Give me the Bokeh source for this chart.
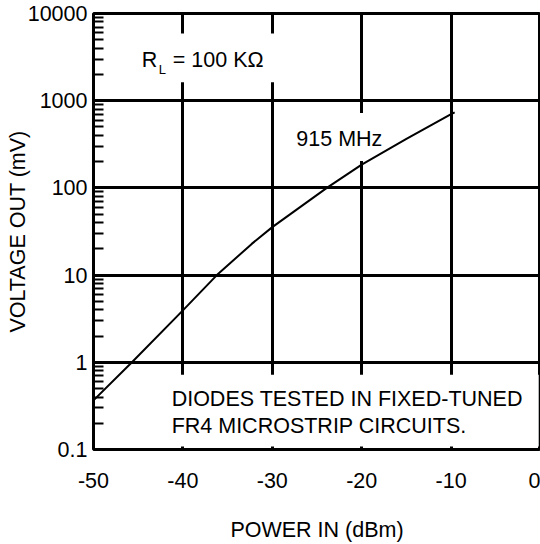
from bokeh.plotting import figure
from bokeh.models import FixedTicker
from bokeh.embed import file_html
from bokeh.resources import INLINE
from bokeh.core.properties import value

# ---- data ----
pin_dbm = [-50, -45.7, -40, -36.2, -32.3, -30, -23.9, -20, -15, -10, -9.6]
vout_mv = [0.366, 1.0, 3.94, 10, 22.8, 35.5, 100, 185, 365, 700, 735]

x_ticks = [-50, -40, -30, -20, -10, 0]
x_tick_labels = ["-50", "-40", "-30", "-20", "-10", "0"]
y_ticks = [0.1, 1, 10, 100, 1000, 10000]
y_tick_labels = ["0.1", "1", "10", "100", "1000", "10000"]

FONT = "Liberation Sans"
FS = "21.5px"

p = figure(width=540, height=544, y_axis_type="log",
           x_range=(-50, 0), y_range=(0.1, 10000),
           output_backend="svg", toolbar_location=None,
           min_border_left=93, min_border_right=0,
           min_border_top=13, min_border_bottom=93)

p.background_fill_color = "white"
p.border_fill_color = "white"
p.outline_line_color = "black"
p.outline_line_width = 3
p.outline_line_alpha = 1.0

minor = [m * 10 ** e for e in range(-1, 4) for m in range(2, 10)]
yticker = FixedTicker(ticks=y_ticks, minor_ticks=minor)
xticker = FixedTicker(ticks=x_ticks)

xax = p.xaxis[0]
xax.ticker = xticker
xax.major_label_overrides = {t: l for t, l in zip(x_ticks, x_tick_labels)}
xax.axis_line_color = None
xax.major_tick_in = 0
xax.major_tick_out = 0
xax.minor_tick_in = 0
xax.minor_tick_out = 0
xax.major_label_standoff = 23
xax.major_label_text_font = FONT
xax.major_label_text_font_size = FS
xax.major_label_text_color = "black"
xax.axis_label = "POWER IN (dBm)"
xax.axis_label_standoff = 27
xax.axis_label_text_font = FONT
xax.axis_label_text_font_size = FS
xax.axis_label_text_font_style = "normal"
xax.axis_label_text_color = "black"

yax = p.yaxis[0]
yax.ticker = yticker
yax.major_label_overrides = {t: l for t, l in zip(y_ticks, y_tick_labels)}
yax.axis_line_color = None
yax.major_tick_in = 0
yax.major_tick_out = 0
yax.minor_tick_in = 10
yax.minor_tick_out = 0
yax.minor_tick_line_width = 2
yax.minor_tick_line_color = "black"
yax.major_label_standoff = 6
yax.major_label_text_font = FONT
yax.major_label_text_font_size = FS
yax.major_label_text_color = "black"
yax.axis_label = "VOLTAGE OUT (mV)"
yax.axis_label_standoff = -5
yax.axis_label_text_font = FONT
yax.axis_label_text_font_size = FS
yax.axis_label_text_font_style = "normal"
yax.axis_label_text_color = "black"

p.xgrid.ticker = xticker
p.ygrid.ticker = yticker
p.grid.grid_line_color = "black"
p.grid.grid_line_width = 3
p.grid.grid_line_alpha = 1.0

# white boxes behind annotation texts (hide grid lines)
p.quad(left=[-45], right=[-28], bottom=[1631], top=[5910],
       fill_color="white", line_color=None)
p.quad(left=[-28], right=[-17], bottom=[204], top=[722],
       fill_color="white", line_color=None)
p.quad(left=[-49.8], right=[-0.2], bottom=[0.1082], top=[0.718],
       fill_color="white", line_color=None)

# curve
p.line(pin_dbm, vout_mv, line_color="black", line_width=2)

# annotations
p.text(x=[-22.5], y=[364], text=["915 MHz"], text_font=value(FONT),
       text_font_size=FS, text_align="center", text_baseline="middle",
       text_color="black")
p.text(x=[-44.6], y=[2908], text=["R"], text_font=value(FONT),
       text_font_size=FS, text_align="left", text_baseline="middle",
       text_color="black")
p.text(x=[-44.6], y=[2908], text=["L"], text_font=value(FONT),
       text_font_size="13px", text_align="left", text_baseline="middle",
       text_color="black", x_offset=17, y_offset=9.5)
p.text(x=[-44.6], y=[2908], text=["= 100 K\u03a9"], text_font=value(FONT),
       text_font_size=FS, text_align="left", text_baseline="middle",
       text_color="black", x_offset=31)
p.text(x=[-41.26], y=[0.382], text=["DIODES TESTED IN FIXED-TUNED"],
       text_font=value(FONT), text_font_size=FS, text_align="left",
       text_baseline="middle", text_color="black")
p.text(x=[-41.26], y=[0.382], text=["FR4 MICROSTRIP CIRCUITS."],
       text_font=value(FONT), text_font_size=FS, text_align="left",
       text_baseline="middle", text_color="black", y_offset=27)

open("out.html", "w").write(file_html(p, INLINE))
